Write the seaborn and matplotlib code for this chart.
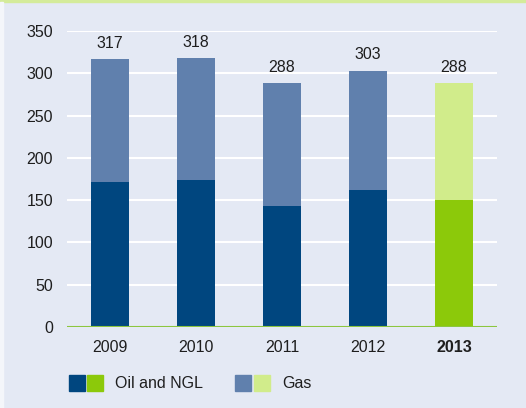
import matplotlib
matplotlib.use("Agg")
import matplotlib.pyplot as plt
from matplotlib.patches import Rectangle
import seaborn as sns
import pandas as pd

years = ["2009", "2010", "2011", "2012", "2013"]
oil = [171, 174, 143, 162, 150]
total = [317, 318, 288, 303, 288]
gas = [t - o for t, o in zip(total, oil)]

BG = "#e4e9f4"
oil_colors = ["#00467f"] * 4 + ["#8cc90a"]
gas_colors = ["#6080ad"] * 4 + ["#d1ec8b"]

sns.set_theme(style="white")
plt.rcParams['font.family'] = ['Liberation Sans', 'DejaVu Sans']
FS = 11.5
TC = "#1e1e1e"

fig = plt.figure(figsize=(5.26, 4.08), dpi=100, facecolor=BG)
ax = fig.add_axes([67/526, 1-327/408, 430/526, (327-31)/408])
ax.set_facecolor(BG)

df = pd.DataFrame({"year": years, "oil": oil, "gas": gas, "total": total})

for y in range(50, 351, 50):
    ax.axhline(y, color="white", lw=1.5, zorder=0)

sns.barplot(data=df, x="year", y="total", hue="year", palette=gas_colors,
            legend=False, width=0.45, saturation=1, linewidth=0, ax=ax, zorder=2)
sns.barplot(data=df, x="year", y="oil", hue="year", palette=oil_colors,
            legend=False, width=0.45, saturation=1, linewidth=0, ax=ax, zorder=3)

for i, t in enumerate(total):
    ax.annotate(str(t), (i, t), xytext=(0, 6), textcoords="offset points",
                ha="center", va="bottom", fontsize=FS, color=TC,
                annotation_clip=False)

ax.axhline(0, color="#8cc63f", lw=1.5, zorder=4)
ax.set_xlim(-0.5, 4.5)
ax.set_ylim(0, 350)
ax.set_yticks(range(0, 351, 50))
ax.set_xlabel("")
ax.set_ylabel("")
for s in ax.spines.values():
    s.set_visible(False)
ax.tick_params(axis="y", length=0, pad=10, labelsize=FS, labelcolor=TC)
ax.tick_params(axis="x", length=0, pad=9, labelsize=FS, labelcolor=TC)
ax.set_xticks(range(len(years)))
ax.set_xticklabels(years)
ax.get_xticklabels()[-1].set_fontweight("bold")

# frame decorations
fig.patches.append(Rectangle((0, 1-2/408), 1, 2/408, transform=fig.transFigure,
                             color="#d4eb9a", zorder=0))
fig.patches.append(Rectangle((0, 0), 3/526, 1-2/408, transform=fig.transFigure,
                             color="#f4f6fa", zorder=0))

# legend
def sq(x0, color):
    fig.patches.append(Rectangle((x0/526, 1-391/408), 16/526, 16/408,
                                 transform=fig.transFigure, color=color))
sq(69, "#00467f"); sq(87, "#8cc90a")
fig.text(115/526, 1-383/408, "Oil and NGL", fontsize=FS, color=TC, va="center")
sq(235, "#6080ad"); sq(254, "#d1ec8b")
fig.text(282/526, 1-383/408, "Gas", fontsize=FS, color=TC, va="center")

fig.savefig("out.png", dpi=100, facecolor=BG)
